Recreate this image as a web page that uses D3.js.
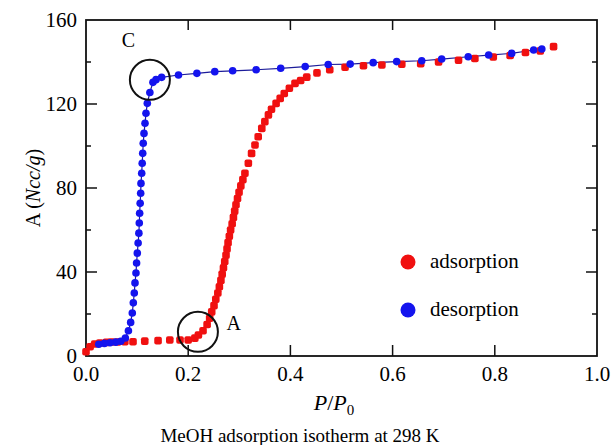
<!DOCTYPE html>
<html>
<head>
<meta charset="utf-8">
<style>
    body { margin: 0; background: #fff; }
    text { font-family: "Liberation Serif", "DejaVu Serif", serif; fill: #000; }
</style>
</head>
<body>
<script src="https://cdn.jsdelivr.net/npm/d3@7"></script>
<script>
    const width = 613;
    const height = 445;
    const margin = {top: 20, right: 16, bottom: 89, left: 86};

    // adsorption branch (red)
    const adsP = [0.000, 0.008, 0.017, 0.027, 0.040, 0.050, 0.062, 0.076, 0.092, 0.115, 0.141, 0.164, 0.184, 0.200, 0.213,
        0.220, 0.229, 0.237, 0.242, 0.246, 0.2505, 0.254, 0.258, 0.261, 0.264, 0.2665, 0.269, 0.2715, 0.274, 0.276,
        0.278, 0.2805, 0.283, 0.286, 0.2885, 0.291, 0.2935, 0.2965, 0.2995, 0.303, 0.307, 0.311, 0.3177, 0.324,
        0.3307, 0.337, 0.344, 0.350, 0.357, 0.363, 0.372, 0.380, 0.388, 0.398, 0.409, 0.420, 0.432, 0.452, 0.477,
        0.507, 0.543, 0.579, 0.618, 0.655, 0.690, 0.729, 0.761, 0.797, 0.830, 0.860, 0.889, 0.915];
    const adsA = [2.0, 4.4, 5.7, 6.2, 6.5, 6.7, 6.7, 6.8, 6.8, 7.1, 7.3, 7.6, 7.6, 7.6, 8.5,
        10, 12, 15, 18, 21, 24, 27, 30, 33, 36, 39, 42, 45, 48, 51,
        54, 57, 60, 63, 66, 69, 72, 75, 78, 81, 84, 87, 91.8, 96.5,
        100.5, 104.4, 108.4, 111.6, 114.8, 117.5, 120.3, 122.7, 125.0, 127.5, 129.8, 131.2, 132.8, 134.8, 136.3,
        137.5, 138.2, 138.6, 138.9, 139.2, 140.0, 140.8, 141.7, 142.4, 143.1, 144.5, 145.3, 147.3];

    // desorption branch (blue), from high to low pressure
    const desP = [0.892, 0.876, 0.833, 0.788, 0.748, 0.696, 0.657, 0.608, 0.562, 0.517, 0.474, 0.429, 0.381, 0.333,
        0.287, 0.252, 0.217, 0.181, 0.148, 0.137, 0.131, 0.125, 0.120, 0.1174, 0.1155, 0.1135, 0.112, 0.111, 0.110,
        0.109, 0.1076, 0.107, 0.106, 0.105, 0.1043, 0.1035, 0.102, 0.1004, 0.099, 0.0978, 0.0959, 0.0945, 0.0926,
        0.0906, 0.0874, 0.083, 0.077, 0.068, 0.058, 0.047, 0.036, 0.025];
    const desA = [146.2, 145.7, 144.1, 143.3, 142.5, 141.4, 140.6, 140.2, 139.7, 139.0, 138.8, 137.8, 137.0, 136.3,
        135.8, 135.4, 134.6, 133.8, 132.7, 131.6, 130.3, 125.5, 120.3, 115.6, 110.8, 106.0, 101.3, 96.5, 91.8,
        87.0, 82.2, 77.5, 72.7, 68.0, 63.3, 58.5, 53.8, 49.0, 44.3, 39.5, 34.8, 30.0, 25.3,
        20.5, 16.0, 12.0, 8.6, 7.0, 6.6, 6.3, 6.0, 5.6];

    const xMajor = [0, 0.2, 0.4, 0.6, 0.8, 1.0];
    const yMajor = [0, 40, 80, 120, 160];
    const yMinor = [20, 60, 100, 140];

    // circled points and labels, in data units
    const marks = [
        {label: "C", p: 0.125, a: 131.5, lp: 0.07, la: 147},
        {label: "A", p: 0.219, a: 11.5, lp: 0.275, la: 12.5}
    ];

    const svg = d3.select("body").append("svg")
        .attr("width", width).attr("height", height);

    const x = d3.scaleLinear().domain([0, 1]).range([margin.left, width - margin.right]);
    const y = d3.scaleLinear().domain([0, 160]).range([height - margin.bottom, margin.top]);

    const x0 = x(0), x1 = x(1), y0 = y(0), y1 = y(160);

    // ticks, all pointing inward
    const tk = svg.append("g").attr("stroke", "#111").attr("stroke-width", 1.5);
    xMajor.slice(1, -1).forEach(v => {
        tk.append("line").attr("x1", x(v)).attr("x2", x(v)).attr("y1", y0).attr("y2", y0 - 11);
        tk.append("line").attr("x1", x(v)).attr("x2", x(v)).attr("y1", y1).attr("y2", y1 + 10);
    });
    yMajor.slice(1, -1).forEach(v => {
        tk.append("line").attr("x1", x0).attr("x2", x0 + 11).attr("y1", y(v)).attr("y2", y(v));
        tk.append("line").attr("x1", x1).attr("x2", x1 - 11).attr("y1", y(v)).attr("y2", y(v));
    });
    yMinor.forEach(v => {
        tk.append("line").attr("x1", x0).attr("x2", x0 + 5).attr("y1", y(v)).attr("y2", y(v));
        tk.append("line").attr("x1", x1).attr("x2", x1 - 5).attr("y1", y(v)).attr("y2", y(v));
    });

    svg.append("rect")
        .attr("x", x0).attr("y", y1).attr("width", x1 - x0).attr("height", y0 - y1)
        .attr("fill", "none").attr("stroke", "#111").attr("stroke-width", 1.8);

    // tick labels
    svg.selectAll(".xl").data(xMajor).enter().append("text")
        .attr("x", d => x(d)).attr("y", y0 + 25)
        .attr("text-anchor", "middle").attr("font-size", 21)
        .text(d => d.toFixed(1));
    svg.selectAll(".yl").data(yMajor).enter().append("text")
        .attr("x", x0 - 9).attr("y", d => y(d) + 7)
        .attr("text-anchor", "end").attr("font-size", 21)
        .text(d => d);

    // axis titles
    const xt = svg.append("text").attr("x", 334).attr("y", 410)
        .attr("text-anchor", "middle").attr("font-size", 22);
    xt.append("tspan").attr("font-style", "italic").text("P");
    xt.append("tspan").text("/");
    xt.append("tspan").attr("font-style", "italic").text("P");
    xt.append("tspan").attr("font-size", 15).attr("dy", 5).text("0");

    const yt = svg.append("text")
        .attr("transform", `translate(40,${(y0 + y1) / 2}) rotate(-90)`)
        .attr("text-anchor", "middle").attr("font-size", 20);
    yt.append("tspan").text("A (");
    yt.append("tspan").attr("font-style", "italic").text("Ncc/g");
    yt.append("tspan").text(")");

    svg.append("text").attr("x", 300).attr("y", 442)
        .attr("text-anchor", "middle").attr("font-size", 19)
        .text("MeOH adsorption isotherm at 298 K");

    const plot = svg.append("g");

    // desorption line + points
    const des = desP.map((p, i) => [p, desA[i]]);
    const ads = adsP.map((p, i) => [p, adsA[i]]);

    plot.append("path").datum(des)
        .attr("d", d3.line().x(d => x(d[0])).y(d => y(d[1])))
        .attr("fill", "none").attr("stroke", "#1c1c9a").attr("stroke-width", 1.2);

    plot.selectAll(".ads").data(ads).enter().append("rect")
        .attr("x", d => x(d[0]) - 3.8).attr("y", d => y(d[1]) - 3.8)
        .attr("width", 7.6).attr("height", 7.6).attr("rx", 2)
        .attr("fill", "#f01010");

    plot.selectAll(".des").data(des).enter().append("circle")
        .attr("cx", d => x(d[0])).attr("cy", d => y(d[1])).attr("r", 3.8)
        .attr("fill", "#1414ee");

    // circled regions
    marks.forEach(m => {
        svg.append("circle").attr("cx", x(m.p)).attr("cy", y(m.a)).attr("r", 20)
            .attr("fill", "none").attr("stroke", "#111").attr("stroke-width", 2);
        svg.append("text").attr("x", x(m.lp)).attr("y", y(m.la))
            .attr("font-size", 20).text(m.label);
    });

    // legend
    const legend = [{name: "adsorption", color: "#f01010"}, {name: "desorption", color: "#1414ee"}];
    const lg = svg.selectAll(".lg").data(legend).enter().append("g")
        .attr("transform", (d, i) => `translate(408,${262 + i * 48})`);
    lg.append("circle").attr("r", 7.5).attr("fill", d => d.color);
    lg.append("text").attr("x", 22).attr("y", 6).attr("font-size", 21).text(d => d.name);
</script>
</body>
</html>
